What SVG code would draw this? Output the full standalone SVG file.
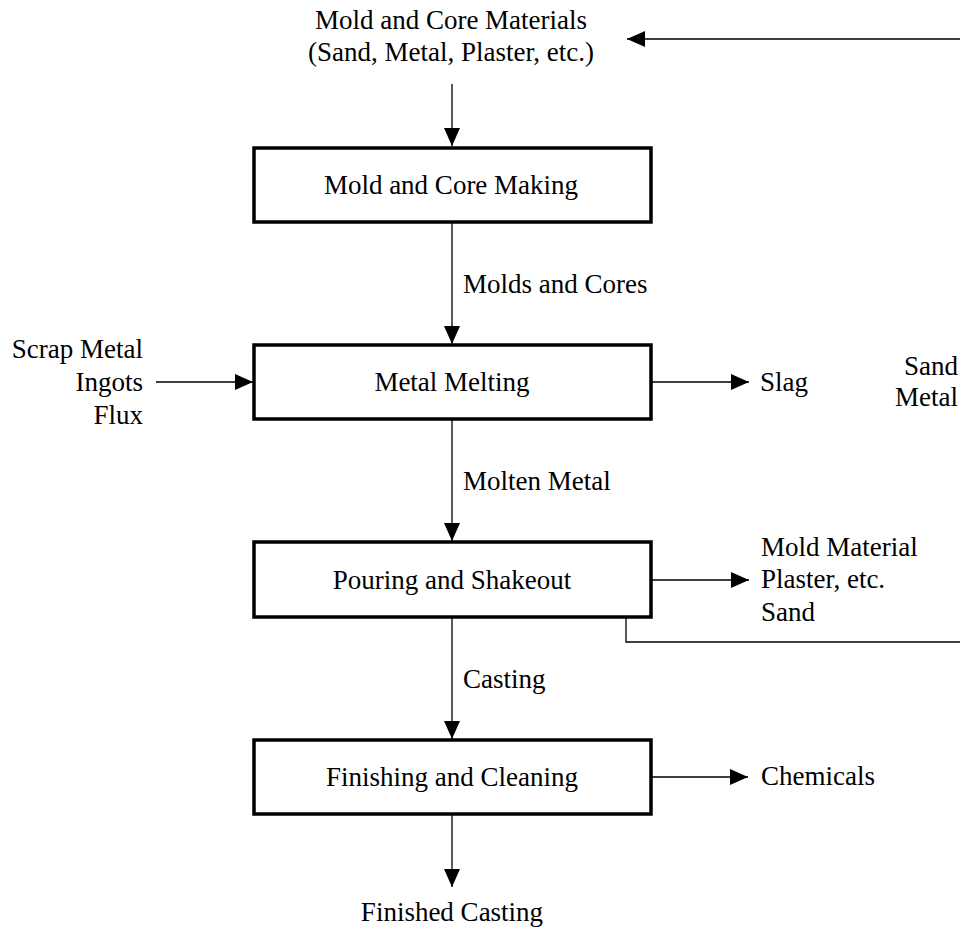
<svg xmlns="http://www.w3.org/2000/svg" width="960" height="928" viewBox="0 0 960 928">
<style>
text{font-family:"Liberation Serif","Times New Roman",serif;font-size:27px;fill:#000}
.box{fill:#fff;stroke:#000;stroke-width:3.5}
.ln{fill:none;stroke:#000;stroke-width:1.3}
.c{text-anchor:middle}
.e{text-anchor:end}
</style>
<defs>
<marker id="ah" viewBox="0 0 18 16" refX="18" refY="8" markerWidth="18" markerHeight="16" markerUnits="userSpaceOnUse" orient="auto">
<path d="M0,0 L18,8 L0,16 Z" fill="#000"/>
</marker>
</defs>
<g id="connectors">
<line class="ln" x1="452" y1="84" x2="452" y2="146" marker-end="url(#ah)"/>
<line class="ln" x1="452" y1="222" x2="452" y2="344" marker-end="url(#ah)"/>
<line class="ln" x1="156" y1="382" x2="253" y2="382" marker-end="url(#ah)"/>
<line class="ln" x1="651" y1="382" x2="749" y2="382" marker-end="url(#ah)"/>
<line class="ln" x1="452" y1="419" x2="452" y2="541" marker-end="url(#ah)"/>
<line class="ln" x1="651" y1="580" x2="749" y2="580" marker-end="url(#ah)"/>
<polyline class="ln" points="626,617 626,642 960,642"/>
<line class="ln" x1="960" y1="39" x2="627" y2="39" marker-end="url(#ah)"/>
<line class="ln" x1="452" y1="617" x2="452" y2="739" marker-end="url(#ah)"/>
<line class="ln" x1="651" y1="777" x2="748" y2="777" marker-end="url(#ah)"/>
<line class="ln" x1="452" y1="815" x2="452" y2="887" marker-end="url(#ah)"/>
<text x="463" y="293">Molds and Cores</text>
<text x="463" y="490">Molten Metal</text>
<text x="463" y="688">Casting</text>
</g>
<g id="input-materials">
<text class="c" x="451" y="29">Mold and Core Materials</text>
<text class="c" x="451" y="61">(Sand, Metal, Plaster, etc.)</text>
</g>
<g id="mold-core-making">
<rect class="box" x="254" y="148" width="397" height="74"/>
<text class="c" x="451" y="194">Mold and Core Making</text>
</g>
<g id="metal-melting">
<rect class="box" x="254" y="345" width="397" height="74"/>
<text class="c" x="452" y="391">Metal Melting</text>
</g>
<g id="melt-inputs">
<text class="e" x="143" y="358">Scrap Metal</text>
<text class="e" x="143" y="391">Ingots</text>
<text class="e" x="143" y="424">Flux</text>
</g>
<g id="slag"><text x="760" y="391">Slag</text></g>
<g id="sand-metal">
<text class="e" x="958" y="375">Sand</text>
<text class="e" x="958" y="406">Metal</text>
</g>
<g id="pouring-shakeout">
<rect class="box" x="254" y="542" width="397" height="75"/>
<text class="c" x="452" y="589">Pouring and Shakeout</text>
</g>
<g id="mold-material">
<text x="761" y="556">Mold Material</text>
<text x="761" y="588">Plaster, etc.</text>
<text x="761" y="621">Sand</text>
</g>
<g id="finishing-cleaning">
<rect class="box" x="254" y="740" width="397" height="74"/>
<text class="c" x="452" y="786">Finishing and Cleaning</text>
</g>
<g id="chemicals"><text x="761" y="785">Chemicals</text></g>
<g id="finished-casting"><text class="c" x="452" y="921">Finished Casting</text></g>
</svg>
